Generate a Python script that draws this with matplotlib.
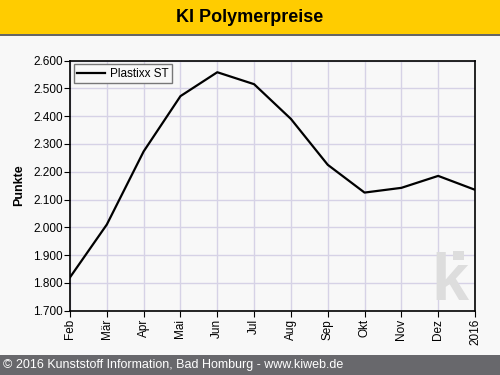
import matplotlib
matplotlib.use("Agg")
from matplotlib import pyplot as plt
from matplotlib.patches import Rectangle
from matplotlib.ticker import FuncFormatter

plt.rcParams['font.family'] = ['Liberation Sans', 'DejaVu Sans']

# data
monate = ["Feb", "Mär", "Apr", "Mai", "Jun", "Jul", "Aug", "Sep", "Okt", "Nov", "Dez", "2016"]
plastixx = [1.820, 2.010, 2.273, 2.472, 2.558, 2.515, 2.390, 2.225, 2.125, 2.142, 2.185, 2.135]
serie = "Plastixx ST"
titel = "KI Polymerpreise"
fusszeile = "© 2016 Kunststoff Information, Bad Homburg - www.kiweb.de"

fig = plt.figure(figsize=(5, 3.75), dpi=100, facecolor="#F8F8F8")

# kopfband und fusszeile
fig.patches.append(Rectangle((0, 1 - 34/375), 1, 34/375, transform=fig.transFigure,
                             facecolor="#FFCC00", edgecolor="none", zorder=0))
fig.patches.append(Rectangle((0, 1 - 36/375), 1, 2/375, transform=fig.transFigure,
                             facecolor="#666666", edgecolor="none", zorder=0))
fig.patches.append(Rectangle((0, 0), 1, 20/375, transform=fig.transFigure,
                             facecolor="#68686C", edgecolor="none", zorder=0))
fig.text(0.5, 1 - 17/375, titel, ha="center", va="center", fontsize=13, fontweight="bold")
fig.text(0.006, 10/375, fusszeile, ha="left", va="center", fontsize=9, color="white")

ax = fig.add_axes([0.14, 0.1715, 0.81, 0.667])
ax.set_facecolor("#F8F8F8")
x = list(range(len(monate)))
ax.plot(x, plastixx, color="black", lw=1.6, label=serie, zorder=3)

ax.set_xlim(0, len(monate) - 1)
ax.set_ylim(1.7, 2.6)
ax.set_xticks(x)
ax.set_xticklabels(monate, rotation=90, fontsize=8.5)
ax.set_yticks([1.7 + 0.1 * i for i in range(10)])
ax.yaxis.set_major_formatter(FuncFormatter(lambda v, p: "{:.3f}".format(v)))
ax.tick_params(axis="y", labelsize=8.5, length=4, direction="out", pad=1)
ax.tick_params(axis="x", length=4, direction="out", pad=2)
ax.grid(True, color="#D6D2E6", lw=1)
ax.set_axisbelow(True)
for s in ax.spines.values():
    s.set_color("black")
    s.set_linewidth(1.2)
ax.set_ylabel("Punkte", fontsize=9, fontweight="bold", labelpad=6)

# wasserzeichen
ax.text(0.893, 0.043, "k", transform=ax.transAxes, fontsize=48, fontweight="bold",
        color="#DDDDDD", ha="left", va="baseline", zorder=1)
ax.add_patch(Rectangle((0.946, 0.203), 0.027, 0.037, transform=ax.transAxes,
                       facecolor="#DDDDDD", edgecolor="none", zorder=1))

leg = ax.legend(loc="upper left", fontsize=8.5, frameon=True, fancybox=False,
                borderpad=0.3, handlelength=2.4, handletextpad=0.4,
                borderaxespad=0.3)
leg.get_frame().set_edgecolor("#777777")
leg.get_frame().set_facecolor("#F8F8F8")
leg.get_frame().set_alpha(1)

fig.savefig("out.png", dpi=100, facecolor=fig.get_facecolor())
